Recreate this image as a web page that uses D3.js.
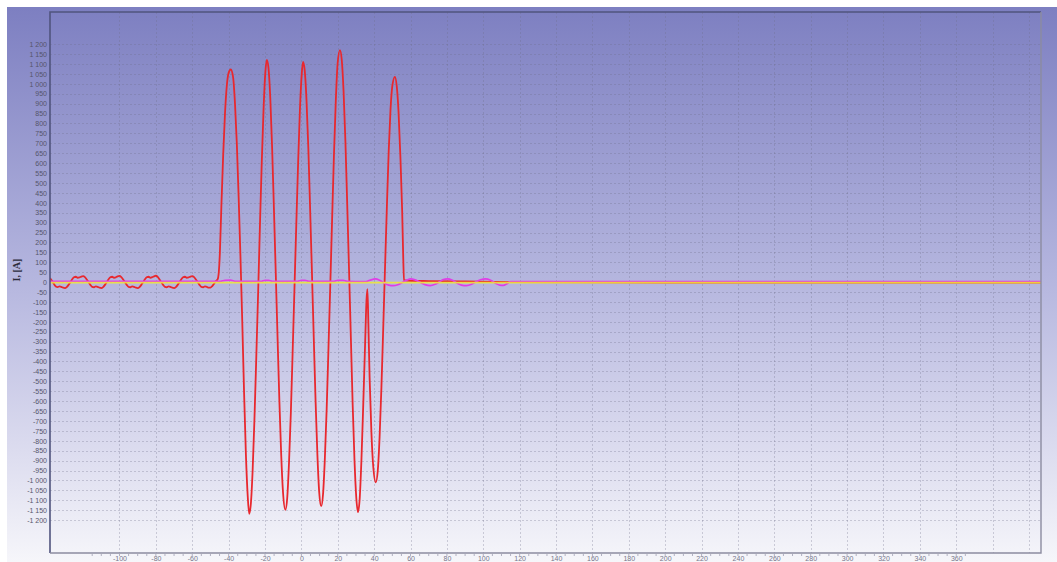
<!DOCTYPE html>
<html lang="en">
<head>
<meta charset="UTF-8">
<title>I, [A]</title>
<script src="https://cdn.jsdelivr.net/npm/d3@7"></script>
<style>
  body { margin: 0; background: #fff; }
  svg { display: block; font-family: "Liberation Sans", Arial, sans-serif; }
</style>
</head>
<body>
<svg width="1057" height="562"></svg>
<script>
// x ticks (ms) and y ticks (A)
var xTicks = [-100, -80, -60, -40, -20, 0, 20, 40, 60, 80, 100, 120, 140, 160, 180, 200, 220, 240, 260, 280, 300, 320, 340, 360];
var xGrid = [-100, -80, -60, -40, -20, 0, 20, 40, 60, 80, 100, 120, 140, 160, 180, 200, 220, 240, 260, 280, 300, 320, 340, 360, 380, 400];
var yTicks = [-1200, -1150, -1100, -1050, -1000, -950, -900, -850, -800, -750, -700, -650, -600, -550, -500, -450, -400, -350, -300, -250, -200, -150, -100, -50,
  0, 50, 100, 150, 200, 250, 300, 350, 400, 450, 500, 550, 600, 650, 700, 750, 800, 850, 900, 950, 1000, 1050, 1100, 1150, 1200];

// red trace [ms, A]
var redSeries = [
  [-138.2, 20], [-138, 18], [-137, 5], [-136, -10], [-135, -22], [-134, -25], [-133, -22], [-132, -24], [-131, -28], [-130, -30], [-129, -25], [-128, -14],
  [-127, 0], [-126, 14], [-125, 24], [-124, 27], [-123, 22], [-122, 24], [-121, 28], [-120, 30], [-119, 25], [-118, 13],
  [-117, 0], [-116, -14], [-115, -24], [-114, -26], [-113, -22], [-112, -24], [-111, -28], [-110, -30], [-109, -25], [-108, -14],
  [-107, 0], [-106, 14], [-105, 24], [-104, 27], [-103, 22], [-102, 24], [-101, 29], [-100, 31], [-99, 25], [-98, 13],
  [-97, 0], [-96, -14], [-95, -24], [-94, -26], [-93, -22], [-92, -24], [-91, -28], [-90, -30], [-89, -25], [-88, -14],
  [-87, 0], [-86, 14], [-85, 24], [-84, 27], [-83, 22], [-82, 25], [-81, 29], [-80, 32], [-79, 26], [-78, 13],
  [-77, 0], [-76, -14], [-75, -24], [-74, -26], [-73, -22], [-72, -24], [-71, -28], [-70, -30], [-69, -25], [-68, -14],
  [-67, 0], [-66, 14], [-65, 24], [-64, 27], [-63, 22], [-62, 24], [-61, 28], [-60, 30], [-59, 25], [-58, 13],
  [-57, 0], [-56, -14], [-55, -24], [-54, -26], [-53, -22], [-52, -24], [-51, -28], [-50, -28], [-49, -20], [-48, -8],
  [-47, 5], [-46, 15], [-45.5, 40],
  [-44.8, 150], [-44, 380], [-43, 640], [-42, 850], [-41, 990], [-40, 1055], [-38.8, 1072], [-37.5, 1030], [-36.5, 900],
  [-35.5, 700], [-34.5, 430], [-33.5, 130], [-32.5, -200], [-31.5, -560], [-30.5, -870], [-29.5, -1080], [-28.7, -1168],
  [-27.8, -1120], [-26.8, -950], [-25.8, -690], [-24.8, -380], [-23.8, -60], [-22.8, 280], [-21.8, 600], [-20.8, 870],
  [-19.8, 1060], [-19.0, 1120], [-18.1, 1080], [-17.1, 930], [-16.1, 680], [-15.1, 370], [-14.1, 50], [-13.1, -280],
  [-12.1, -600], [-11.1, -870], [-10.1, -1060], [-8.8, -1148], [-7.8, -1090], [-6.8, -910], [-5.8, -660], [-4.8, -350],
  [-3.8, -30], [-2.8, 290], [-1.8, 600], [-0.8, 870], [0.2, 1050], [0.9, 1110], [1.8, 1070], [2.8, 920], [3.8, 680],
  [4.8, 370], [5.8, 50], [6.8, -280], [7.8, -600], [8.8, -870], [9.8, -1060], [10.9, -1130], [11.9, -1070], [12.9, -890],
  [13.9, -640], [14.9, -330], [15.9, -10], [16.9, 320], [17.9, 640], [18.9, 910], [19.9, 1100], [21.2, 1170], [22.2, 1120],
  [23.2, 960], [24.2, 710], [25.2, 390], [26.2, 60], [27.2, -280], [28.2, -620], [29.2, -900], [30.2, -1090], [31.1, -1160],
  [32.0, -1100], [33.0, -900], [34.0, -620], [35.0, -320], [35.8, -90], [36.3, -35], [36.8, -200], [37.5, -480],
  [38.5, -760], [39.5, -930], [40.9, -1010], [42.0, -950], [43.0, -780], [44.0, -530], [45.0, -230], [46.0, 80],
  [47.0, 380], [48.0, 660], [49.0, 870], [50.0, 990], [51.4, 1035], [52.4, 990], [53.4, 860], [54.4, 640], [55.4, 360],
  [56.0, 120], [56.4, 10], [57.5, 8], [70, 5], [90, 3], [115, 0], [200, -2], [406.6, -2]
];

// magenta trace [ms, A]
var magentaSeries = [
  [-138.2, 4], [-44.5, 4], [-42, 9], [-39, 10], [-36, 4], [-22, 4], [-20, 9], [-18, 9], [-16, 4], [-2, 4], [0, 9], [2, 9],
  [4, 4], [18, 4], [20, 9], [23, 9], [25, 4], [35, 2], [37.5, 9], [40.7, 16], [43, 9], [45.5, -5], [48, -15], [50.6, -18],
  [53, -13], [55.5, -2], [58, 10], [60, 16], [62.5, 11], [65, 0], [68, -13], [70.8, -18], [73.5, -11], [76, 2], [78, 13],
  [80.3, 16], [83, 9], [85.5, -5], [88, -15], [90.8, -18], [93.5, -11], [96, 2], [98.5, 12], [101.2, 16], [104, 9],
  [106.5, -5], [109, -15], [111, -16], [113, -8], [115, 3], [406.6, 3]
];

// yellow trace [ms, A]
var yellowSeries = [[-138.2, -3], [406.6, -3]];

var svg = d3.select('svg');
var plotL = 50, plotT = 12, plotR = 1041, plotB = 553;

var x = d3.scaleLinear().domain([-138.2, 406.6]).range([plotL, plotR]);
var y = d3.scaleLinear().domain([-1366, 1362]).range([plotB, plotT]);

// background gradient
var defs = svg.append('defs');
var grad = defs.append('linearGradient')
  .attr('id', 'bg').attr('x1', 0).attr('y1', 0).attr('x2', 0).attr('y2', 1);
grad.append('stop').attr('offset', '0%').attr('stop-color', '#7d7fc1');
grad.append('stop').attr('offset', '50%').attr('stop-color', '#b6b7df');
grad.append('stop').attr('offset', '80%').attr('stop-color', '#dcdcef');
grad.append('stop').attr('offset', '100%').attr('stop-color', '#f6f6fa');

svg.append('rect').attr('x', 7).attr('y', 7).attr('width', 1050).attr('height', 555).attr('fill', 'url(#bg)');

defs.append('clipPath').attr('id', 'clip')
  .append('rect').attr('x', plotL).attr('y', plotT).attr('width', plotR - plotL).attr('height', plotB - plotT);

// grid
var grid = svg.append('g').attr('stroke', 'rgba(110,110,135,0.3)').attr('stroke-dasharray', '2,2').attr('stroke-width', 1);
grid.selectAll('.gy').data(yTicks).enter().append('line')
  .attr('x1', plotL).attr('x2', plotR)
  .attr('y1', function (d) { return Math.round(y(d)) + 0.5; })
  .attr('y2', function (d) { return Math.round(y(d)) + 0.5; });
grid.selectAll('.gx').data(xGrid).enter().append('line')
  .attr('y1', plotT).attr('y2', plotB)
  .attr('x1', function (d) { return Math.round(x(d)) + 0.5; })
  .attr('x2', function (d) { return Math.round(x(d)) + 0.5; });

// y axis labels
var fmt = function (d) { return String(d).replace(/\B(?=(\d{3})+(?!\d))/g, ' '); };
var axisY = d3.axisLeft(y).tickValues(yTicks).tickFormat(fmt).tickSize(0).tickPadding(3);
var gy = svg.append('g').attr('transform', 'translate(' + plotL + ',0)').call(axisY);
gy.select('.domain').remove();
gy.selectAll('text').attr('font-size', 7).attr('fill', '#55556a').attr('font-family', '"Liberation Sans", Arial, sans-serif');

// x axis labels
var axisX = d3.axisBottom(x).tickValues(xTicks).tickFormat(fmt).tickSize(0).tickPadding(3);
var gx = svg.append('g').attr('transform', 'translate(0,' + plotB + ')').call(axisX);
gx.select('.domain').remove();
gx.selectAll('text').attr('font-size', 7).attr('fill', '#77778a').attr('font-family', '"Liberation Sans", Arial, sans-serif');

// small ticks under the frame
svg.append('g').selectAll('line').data(d3.range(-115, 366, 5)).enter().append('line')
  .attr('x1', function (d) { return x(d); }).attr('x2', function (d) { return x(d); })
  .attr('y1', plotB + 1).attr('y2', plotB + 3)
  .attr('stroke', '#b0b0c0').attr('stroke-width', 1);

// traces
var line = d3.line()
  .x(function (d) { return x(d[0]); })
  .y(function (d) { return y(d[1]); })
  .curve(d3.curveMonotoneX);

var plot = svg.append('g').attr('clip-path', 'url(#clip)');
plot.append('path').datum(redSeries).attr('d', line)
  .attr('fill', 'none').attr('stroke', '#e8282e').attr('stroke-width', 1.8);
plot.append('path').datum(magentaSeries).attr('d', line)
  .attr('fill', 'none').attr('stroke', '#e03ee6').attr('stroke-width', 1.7);
plot.append('path').datum(yellowSeries).attr('d', line)
  .attr('fill', 'none').attr('stroke', '#f2ea34').attr('stroke-width', 1.8).attr('stroke-opacity', 0.85);

// frame: darker top/left, lighter bottom/right
var frame = svg.append('g').attr('fill', 'none');
frame.append('path')
  .attr('d', 'M' + plotL + ',' + plotB + 'V' + plotT + 'H' + plotR)
  .attr('stroke', '#50547e').attr('stroke-width', 1.6);
frame.append('path')
  .attr('d', 'M' + plotR + ',' + plotT + 'V' + plotB + 'H' + plotL)
  .attr('stroke', '#8c8ca0').attr('stroke-width', 1.4);

// y title
svg.append('text')
  .attr('transform', 'translate(20,270) rotate(-90)')
  .attr('text-anchor', 'middle')
  .attr('font-family', '"Liberation Serif", "Times New Roman", serif')
  .attr('font-weight', 'bold')
  .attr('font-size', 10)
  .attr('fill', '#2c2c3c')
  .text('I, [A]');
</script>
</body>
</html>
